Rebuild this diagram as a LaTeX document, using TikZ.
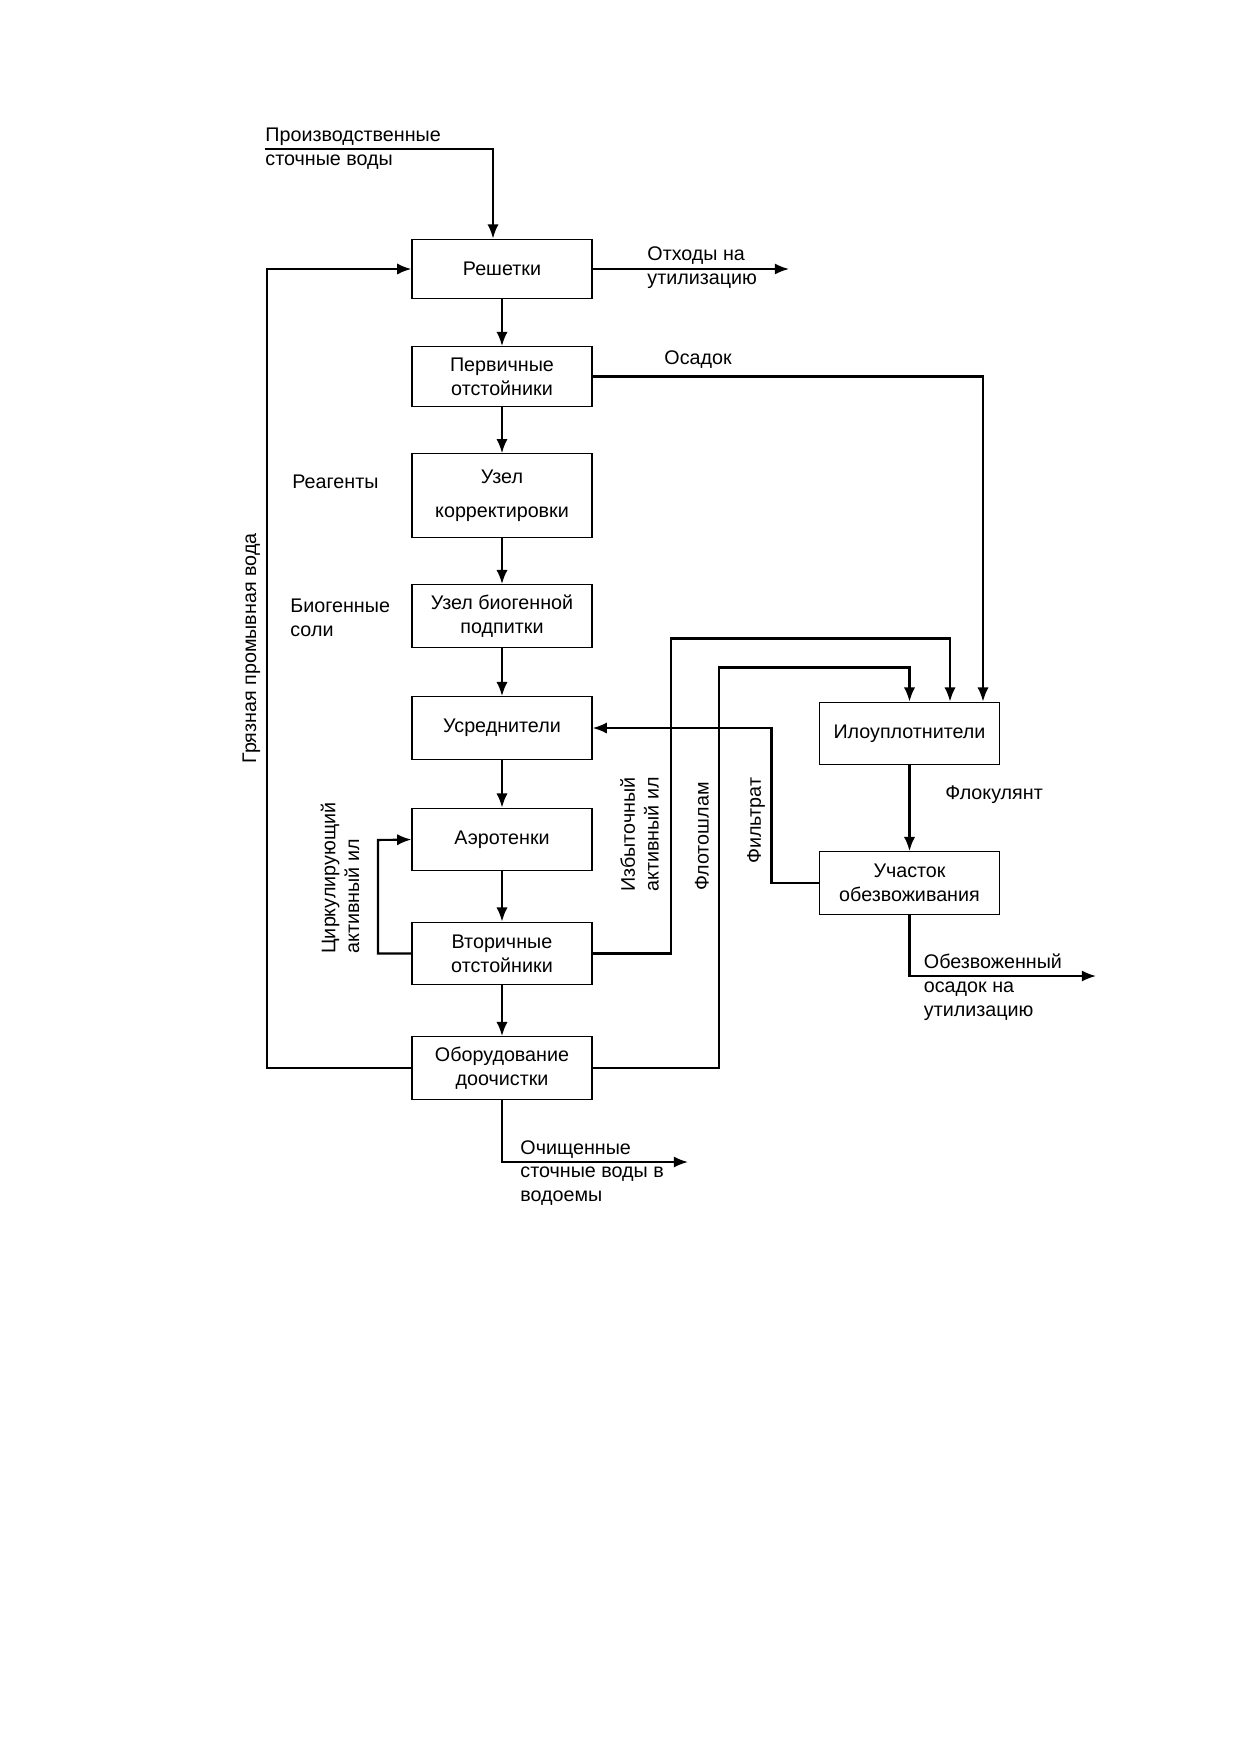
\documentclass[tikz,border=0pt]{standalone}
\usepackage{fontspec}
\setmainfont{Liberation Sans}
\usetikzlibrary{arrows.meta}
\begin{document}
\begin{tikzpicture}[x=0.16935mm, y=-0.16935mm, font=\fontsize{9.5}{11.5}\selectfont]
	\tikzstyle{box}=[rectangle, draw=black, line width=0.6pt, minimum width=30.5mm, minimum height=10.6mm, align=center]
	\tikzstyle{lbl}=[inner sep=0pt, align=left]
	\tikzstyle{arr}=[line width=1pt, -{Latex[length=2.4mm,width=1.9mm]}]
	\useasboundingbox (0,0) rectangle (1240,1754);
	% Main column
	\node at (502, 269) [box, minimum height=10.1mm] (resh) {Решетки};
	\node at (502, 376.5) [box, minimum height=10.1mm] (perv) {Первичные\\отстойники};
	\node at (502, 495.5) [box, minimum height=14.1mm] (korr) {Узел\\[5pt]корректировки};
	\node at (502, 616) [box] (biog) {Узел биогенной\\подпитки};
	\node at (502, 728) [box] (usr) {Усреднители};
	\node at (502, 839.5) [box] (aer) {Аэротенки};
	\node at (502, 953.5) [box] (vtor) {Вторичные\\отстойники};
	\node at (502, 1068) [box] (obor) {Оборудование\\доочистки};
	% Sludge column
	\node at (909.5, 733.5) [box] (ilo) {Илоуплотнители};
	\node at (909.5, 883) [box] (uch) {Участок\\обезвоживания};
	%---------------------%
	% Labels
	\node at (265, 149) [lbl, anchor=west] (src) {Производственные\\сточные воды};
	\node at (647, 268) [lbl, anchor=west] (otx) {Отходы на\\утилизацию};
	\node at (664, 360) [lbl, anchor=west] (osad) {Осадок};
	\node at (292, 482) [lbl, anchor=west] (reag) {Реагенты};
	\node at (290, 618) [lbl, anchor=west] (soli) {Биогенные\\соли};
	\node at (945, 795) [lbl, anchor=west] (flok) {Флокулянт};
	\node at (923.5, 987.5) [lbl, anchor=west] (obezv) {Обезвоженный\\осадок на\\утилизацию};
	\node at (520, 1173) [lbl, anchor=west] (ochi) {Очищенные\\сточные воды в\\водоемы};
	\node at (251.5, 648.5) [lbl, rotate=90] (gryaz) {Грязная промывная вода};
	\node at (340, 954) [lbl, rotate=90, anchor=west] (cirk) {Циркулирующий\\активный ил};
	\node at (639.5, 892) [lbl, rotate=90, anchor=west] (izb) {Избыточный\\активный ил};
	\node at (702, 891) [lbl, rotate=90, anchor=west] (flot) {Флотошлам};
	\node at (756, 864) [lbl, rotate=90, anchor=west] (filt) {Фильтрат};
	%---------------------%
	% Bends and free ends
	\coordinate (out_resh) at (789, 269);
	\coordinate (out_obor) at (688, 1162);
	\coordinate (out_uch) at (1096, 976);
	\coordinate (gr_1) at (267, 269);
	\coordinate (cir_1) at (378, 840);
	\coordinate (izb_1) at (671, 638.5);
	\coordinate (flot_1) at (719, 667.5);
	\coordinate (filt_1) at (771.5, 728);
	%---------------------%
	% Main column arrows
	\foreach \a/\b in {resh/perv, perv/korr, korr/biog, biog/usr, usr/aer, aer/vtor, vtor/obor, ilo/uch}
		\draw [arr] (\a) -- (\b);
	% Inlet and outlets
	\draw [arr] (src.west) -| ([shift={(-9,0)}]resh.north);
	\draw [arr] (resh.east) -- (out_resh);
	\draw [arr] (obor.south) |- (out_obor);
	\draw [arr] (uch.south) |- (out_uch);
	% Returns
	\draw [arr] (obor.west) -| (gr_1) -- (resh.west);
	\draw [arr] (vtor.west) -| (cir_1) -- (aer.west);
	\draw [arr] (uch.west) -| (filt_1) -- (usr.east);
	% Sludge lines
	\draw [arr] (perv.east) -| ([shift={(73.5,0)}]ilo.north);
	\draw [arr] (vtor.east) -| (izb_1) -| ([shift={(40.5,0)}]ilo.north);
	\draw [arr] (obor.east) -| (flot_1) -| (ilo.north);
\end{tikzpicture}
\end{document}
